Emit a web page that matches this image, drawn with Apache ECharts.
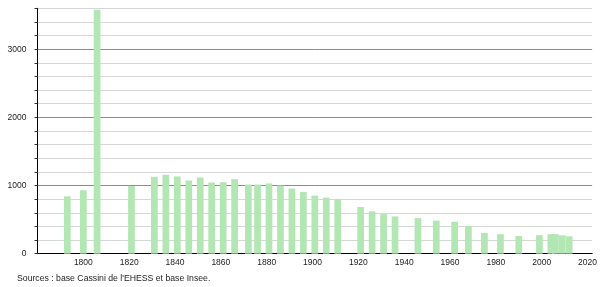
<!DOCTYPE html>
<html>
<head>
<meta charset="utf-8">
<script src="https://cdn.jsdelivr.net/npm/echarts@6/dist/echarts.min.js"></script>
<style>
html,body{margin:0;padding:0;background:#fff;}
#chart{width:600px;height:287px;}
</style>
</head>
<body>
<div id="chart"></div>
<script>
var years = [1793,1800,1806,1821,1831,1836,1841,1846,1851,1856,1861,1866,1872,1876,1881,1886,1891,1896,1901,1906,1911,1921,1926,1931,1936,1946,1954,1962,1968,1975,1982,1990,1999,2004,2006,2009,2012];
var population = [842,931,3580,995,1128,1158,1133,1074,1118,1044,1049,1093,1015,1015,1030,1000,956,907,852,823,803,685,621,581,547,522,485,468,409,306,286,261,272,286,286,270,255];
var xTickLabels = [1800,1820,1840,1860,1880,1900,1920,1940,1960,1980,2000,2020];
var yTickLabels = [0,1000,2000,3000];
var sourceText = "Sources : base Cassini de l'EHESS et base Insee.";

var chart = echarts.init(document.getElementById('chart'), null, {renderer:'canvas'});
var font = 'Liberation Sans, Arial, sans-serif';
chart.setOption({
  animation:false,
  backgroundColor:'#fff',
  grid:{left:37.5, right:7.2, top:8.3, bottom:33.3, containLabel:false},
  xAxis:{
    type:'value', min:1780, max:2022, interval:20,
    axisLine:{show:true, lineStyle:{color:'#000', width:1}},
    axisTick:{show:false},
    splitLine:{show:false},
    axisLabel:{
      margin:4, fontSize:8.5, fontFamily:font, color:'#222',
      showMinLabel:true, showMaxLabel:true,
      formatter:function(v){ return xTickLabels.indexOf(v) >= 0 ? String(v) : ''; }
    }
  },
  yAxis:{
    type:'value', min:0, max:3600, interval:200,
    axisLine:{show:true, lineStyle:{color:'#000', width:1}},
    axisTick:{show:true, length:3, lineStyle:{color:'#333'}},
    splitLine:{show:true, lineStyle:{color:['#8c8c8c','#d6d6d6','#d6d6d6','#d6d6d6','#d6d6d6'], width:1}},
    axisLabel:{
      margin:11, fontSize:8.5, fontFamily:font, color:'#222',
      formatter:function(v){ return yTickLabels.indexOf(v) >= 0 ? String(v) : ''; }
    }
  },
  series:[{
    type:'bar',
    barWidth:6.7,
    itemStyle:{color:'#b2e6b2'},
    data: years.map(function(y,i){ return [y, population[i]]; })
  }],
  graphic:[{
    type:'text', left:17, top:274,
    style:{text:sourceText, fontSize:8.7, fontFamily:font, fill:'#222'}
  }]
});
</script>
</body>
</html>
